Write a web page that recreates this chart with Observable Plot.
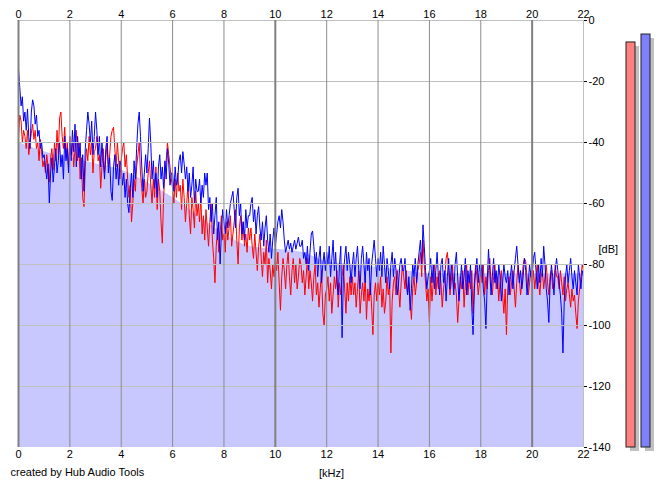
<!DOCTYPE html>
<html><head><meta charset="utf-8">
<script src="https://cdn.jsdelivr.net/npm/d3@7"></script>
<script src="https://cdn.jsdelivr.net/npm/@observablehq/plot@0.6"></script>
<style>
html,body{margin:0;padding:0;background:#fff;}
#chart{position:relative;width:665px;height:487px;overflow:hidden;font-family:"Liberation Sans",Arial,sans-serif;}
#chart svg{position:absolute;top:0;}
</style></head><body><div id="chart"></div>
<script>
// spectrum sample spacing (kHz)
const freqStep = 0.05;
// right channel (blue), dB, one row per kHz
const blueDb = [
-16,-22,-28,-25,-33,-30,-36,-29,-38,-42,-30,-26,-28,-34,-31,-38,-36,-42,-40,-45,
-44,-48,-52,-47,-60,-50,-45,-53,-48,-42,-50,-46,-40,-48,-44,-52,-38,-46,-42,-50,
-40,-46,-36,-43,-34,-48,-38,-45,-40,-52,-44,-56,-42,-36,-30,-34,-40,-33,-44,-38,
-30,-36,-44,-38,-48,-40,-46,-52,-42,-38,-50,-45,-56,-59,-48,-44,-52,-47,-54,-46,
-48,-54,-50,-58,-52,-60,-63,-55,-50,-58,-46,-52,-42,-34,-30,-38,-48,-56,-50,-44,
-50,-42,-32,-40,-52,-46,-55,-50,-58,-48,-44,-52,-48,-55,-46,-52,-42,-47,-54,-50,
-50,-56,-48,-54,-52,-46,-44,-50,-43,-47,-52,-48,-56,-50,-58,-54,-48,-60,-52,-56,
-56,-52,-60,-54,-58,-50,-54,-50,-62,-58,-66,-60,-70,-64,-58,-72,-66,-80,-70,-62,
-66,-70,-62,-68,-64,-60,-58,-56,-62,-68,-58,-55,-64,-60,-70,-66,-72,-62,-68,-64,
-64,-60,-58,-66,-62,-70,-64,-61,-68,-72,-66,-74,-68,-64,-72,-76,-70,-78,-72,-68,
-74,-70,-66,-64,-68,-62,-66,-72,-76,-74,-72,-75,-73,-76,-74,-72,-75,-73,-71,-74,
-74,-72,-78,-76,-80,-74,-82,-76,-70,-69,-74,-80,-76,-84,-78,-74,-86,-80,-76,-82,
-76,-80,-74,-84,-78,-72,-82,-76,-86,-90,-80,-74,-104,-84,-78,-74,-82,-76,-80,-86,
-80,-76,-84,-78,-74,-82,-88,-78,-74,-80,-86,-76,-82,-78,-90,-80,-76,-72,-78,-84,
-78,-82,-76,-84,-74,-80,-86,-78,-82,-88,-80,-76,-84,-78,-82,-90,-86,-80,-78,-82,
-82,-78,-86,-90,-84,-95,-88,-80,-84,-78,-86,-80,-76,-72,-80,-67,-74,-82,-88,-84,
-82,-78,-86,-80,-88,-82,-76,-84,-90,-80,-78,-86,-82,-92,-84,-78,-88,-80,-84,-90,
-80,-76,-84,-92,-86,-80,-88,-84,-78,-90,-82,-86,-80,-94,-103,-88,-82,-78,-86,-80,
-84,-80,-88,-92,-101,-86,-75,-82,-90,-84,-78,-86,-82,-88,-80,-84,-92,-86,-80,-84,
-86,-82,-90,-84,-80,-88,-82,-78,-74,-80,-86,-82,-88,-84,-78,-82,-90,-86,-80,-84,
-84,-78,-76,-82,-88,-80,-86,-78,-84,-74,-80,-88,-92,-99,-86,-80,-84,-90,-82,-78,
-82,-86,-90,-96,-109,-92,-84,-80,-86,-82,-78,-84,-88,-82,-86,-90,-80,-84,-88,-82,
-84];
// left channel (red), dB
const redDb = [
-38,-31,-33,-40,-36,-38,-42,-36,-44,-40,-37,-34,-39,-36,-42,-40,-46,-39,-43,-48,
-46,-50,-44,-48,-53,-45,-42,-49,-40,-46,-36,-44,-32,-30,-38,-42,-35,-45,-40,-48,
-38,-44,-40,-48,-42,-36,-46,-40,-52,-45,-58,-61,-48,-42,-46,-38,-44,-40,-50,-43,
-42,-38,-46,-44,-55,-48,-42,-50,-45,-40,-48,-44,-38,-36,-35,-42,-48,-40,-46,-52,
-46,-42,-40,-48,-44,-52,-58,-54,-66,-60,-52,-56,-48,-44,-40,-50,-55,-60,-52,-58,
-56,-50,-46,-54,-60,-52,-58,-48,-62,-52,-56,-66,-73,-58,-50,-46,-40,-44,-48,-52,
-55,-60,-52,-58,-50,-56,-54,-62,-52,-58,-66,-60,-54,-64,-70,-58,-62,-68,-56,-64,
-60,-66,-58,-70,-64,-72,-62,-68,-74,-66,-60,-72,-78,-86,-74,-68,-76,-70,-64,-72,
-70,-76,-66,-72,-68,-64,-74,-70,-66,-62,-72,-80,-68,-64,-72,-66,-74,-70,-76,-68,
-72,-68,-74,-78,-70,-76,-82,-74,-70,-78,-84,-76,-80,-72,-86,-78,-82,-88,-80,-84,
-78,-82,-76,-86,-95,-84,-78,-82,-88,-80,-76,-84,-90,-82,-78,-86,-80,-88,-84,-78,
-80,-86,-82,-90,-84,-78,-88,-82,-86,-92,-84,-80,-90,-86,-94,-88,-82,-96,-100,-90,
-88,-84,-92,-86,-96,-90,-84,-88,-82,-94,-86,-90,-84,-80,-88,-96,-86,-92,-84,-90,
-84,-90,-86,-94,-88,-82,-96,-90,-86,-92,-84,-98,-88,-92,-86,-94,-103,-90,-86,-92,
-86,-90,-84,-94,-88,-96,-92,-84,-90,-86,-109,-92,-86,-84,-90,-82,-88,-94,-86,-80,
-84,-88,-82,-90,-86,-92,-98,-88,-84,-90,-86,-82,-80,-76,-84,-72,-80,-86,-92,-88,
-99,-84,-92,-86,-80,-90,-84,-88,-82,-86,-94,-88,-84,-78,-76,-82,-90,-86,-80,-88,
-86,-90,-99,-92,-84,-88,-82,-94,-86,-80,-90,-84,-88,-82,-96,-86,-80,-84,-90,-86,
-82,-86,-80,-90,-84,-88,-82,-78,-86,-90,-84,-80,-88,-84,-92,-86,-82,-90,-96,-88,
-103,-88,-84,-90,-86,-82,-88,-94,-86,-80,-84,-90,-86,-80,-78,-79,-84,-90,-86,-82,
-86,-82,-88,-84,-80,-86,-90,-84,-82,-88,-84,-80,-86,-90,-84,-82,-88,-86,-80,-84,
-84,-88,-82,-86,-90,-84,-92,-88,-86,-90,-94,-88,-92,-90,-96,-101,-92,-88,-84,-80,
-82];
// smoothed spectrum (filled area)
const envFreq = [0,1,2,3,4,5,6,7,8,9,10,11,12,13,14,15,16,17,18,19,20,21,22];
const envDb   = [-40,-43,-45,-47,-49,-53,-58,-64,-70,-74,-75,-76,-79,-80,-81,-82,-83,-83,-83,-83,-83,-83,-83];
const xTicks = [0,2,4,6,8,10,12,14,16,18,20,22];
const yTicks = [0,-20,-40,-60,-80,-100,-120,-140];
// level meters
const meterChannels = ["L","R"];
const meterDb = [-7.2,-4.6];
const meterFill = ["#ff8080","#8080ff"];

const blueRows = blueDb.map((db,i)=>({f:i*freqStep, db}));
const redRows = redDb.map((db,i)=>({f:i*freqStep, db}));
const envRows = envFreq.map((f,i)=>({f, db:envDb[i]}));
const meterRows = meterChannels.map((ch,i)=>({ch, db:meterDb[i], color:meterFill[i]}));

const font = "Liberation Sans, Arial, sans-serif";

const main = Plot.plot({
  width:665, height:487,
  marginTop:20, marginRight:82, marginBottom:40, marginLeft:18,
  style:{fontFamily:font, fontSize:"11px", background:"transparent", color:"#000"},
  x:{domain:[0,22], label:null},
  y:{domain:[-140,0], label:null},
  marks:[
    Plot.areaY(envRows,{x:"f", y1:-140, y2:"db", fill:"#c8c8ff", curve:"monotone-x"}),
    Plot.lineY(redRows,{x:"f", y:"db", stroke:"#ff0000", strokeWidth:1, clip:true}),
    Plot.lineY(blueRows,{x:"f", y:"db", stroke:"#0000ff", strokeWidth:1, clip:true}),
    Plot.ruleY(yTicks.filter(d=>d>-140),{stroke:"#c0c0c0"}),
    Plot.ruleX(xTicks.filter(d=>d%10!==0 && d<22),{stroke:"#8c8c8c"}),
    Plot.ruleX(xTicks.filter(d=>d%10===0),{stroke:"#808080", strokeWidth:2}),
    Plot.ruleX([22],{stroke:"#c0c0c0"}),
    Plot.axisX({anchor:"top", ticks:xTicks, tickSize:0, tickPadding:3, label:null}),
    Plot.axisX({anchor:"bottom", ticks:xTicks, tickSize:0, tickPadding:3, label:null}),
    Plot.axisY({anchor:"right", ticks:yTicks, tickSize:3, tickPadding:2, tickFormat:d=>String(d), label:null}),
    Plot.text(["[dB]"],{frameAnchor:"right", textAnchor:"start", dx:15, dy:15.5, fontSize:11}),
    Plot.text(["[kHz]"],{frameAnchor:"bottom", dx:30.5, dy:29, fontSize:11}),
    Plot.text(["created by Hub Audio Tools"],{frameAnchor:"bottom-left", textAnchor:"start", dx:-8, dy:28, fontSize:11})
  ]
});
main.style.left = "0px";

const meters = Plot.plot({
  width:50, height:487,
  marginTop:20, marginBottom:40, marginLeft:0, marginRight:0,
  style:{background:"transparent"},
  x:{type:"band", domain:meterChannels, range:[3.6,42], padding:0.4, axis:null},
  y:{domain:[-140,0], axis:null},
  color:{type:"identity"},
  marks:[
    Plot.barY(meterRows,{x:"ch", y1:-140, y2:"db", fill:"#c0c0c0", dx:4, dy:4}),
    Plot.barY(meterRows,{x:"ch", y1:-140, y2:"db", fill:"color", stroke:"#202020", strokeWidth:1})
  ]
});
meters.style.left = "615px";

const c = document.getElementById("chart");
c.appendChild(main);
c.appendChild(meters);
</script>
</body></html>
